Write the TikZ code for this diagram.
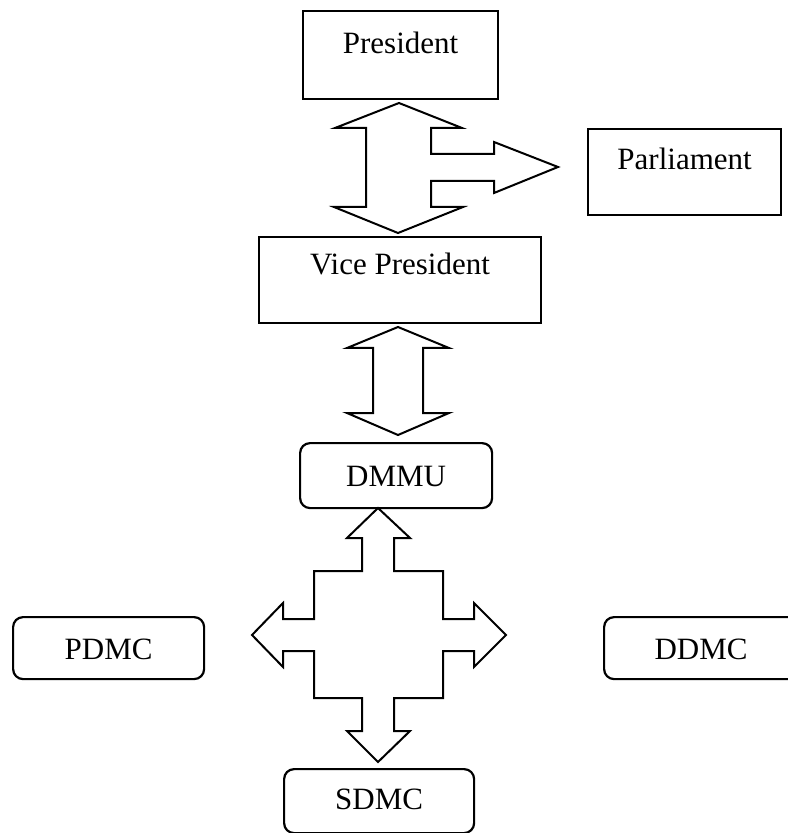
\documentclass[tikz,border=0pt]{standalone}
\usepackage{fontspec}
\setmainfont{Liberation Serif}
\usepackage{tikz}

\begin{document}
\begin{tikzpicture}[x=0.5pt,y=-0.5pt]
		\useasboundingbox (0,0) rectangle (787,833);

		\begin{scope}[every node/.style={draw,line width=1.1pt,inner sep=0pt,anchor=north west,
		              font=\fontsize{15.5}{18}\selectfont}]
			\node[minimum width=97.5pt,text height=21pt,text depth=23pt] (pres) at (302,10) {President};
			\node[minimum width=141pt,text height=18.5pt,text depth=24.5pt] (vp) at (258,236) {Vice President};
			\node[minimum width=96.5pt,text height=20pt,text depth=23pt] (parl) at (587,128) {Parliament};
		\end{scope}

		\begin{scope}[every node/.style={draw,line width=1.1pt,inner sep=0pt,anchor=north west,
		              rounded corners=5pt,font=\fontsize{15.5}{18}\selectfont}]
			\node[minimum width=96pt,text height=21.5pt,text depth=11pt] (dmmu) at (299,442) {DMMU};
			\node[minimum width=95.5pt,text height=21pt,text depth=10pt] (pdmc) at (12,616) {PDMC};
			\node[minimum width=97pt,text height=21pt,text depth=10pt] (ddmc) at (603,616) {DDMC};
			\node[minimum width=95pt,text height=20pt,text depth=12pt] (sdmc) at (283,768) {SDMC};
		\end{scope}

		\begin{scope}[line width=1pt,line join=miter]
			% president - vice president, branch to parliament
			\draw (399,103) -- (462,128) -- (431,128) -- (431,154) -- (494,154) -- (494,142)
			      -- (558,167) -- (494,193) -- (494,181) -- (431,181) -- (431,207) -- (463,207)
			      -- (398,233) -- (334,207) -- (366,207) -- (366,128) -- (335,128) -- cycle;
			% vice president - dmmu
			\draw (398,327) -- (449,348) -- (423,348) -- (423,413) -- (449,413) -- (398,435)
			      -- (347,413) -- (373,413) -- (373,348) -- (347,348) -- cycle;
			% dmmu - pdmc, ddmc, sdmc
			\draw (378,508) -- (410,538) -- (394,538) -- (394,571) -- (443,571) -- (443,619)
			      -- (474,619) -- (474,603) -- (506,635) -- (474,667) -- (474,651) -- (443,651)
			      -- (443,698) -- (394,698) -- (394,731) -- (410,731) -- (378,762) -- (347,731)
			      -- (362,731) -- (362,698) -- (314,698) -- (314,651) -- (283,651) -- (283,667)
			      -- (252,635) -- (283,603) -- (283,619) -- (314,619) -- (314,571) -- (362,571)
			      -- (362,538) -- (347,538) -- cycle;
		\end{scope}
\end{tikzpicture}
\end{document}
